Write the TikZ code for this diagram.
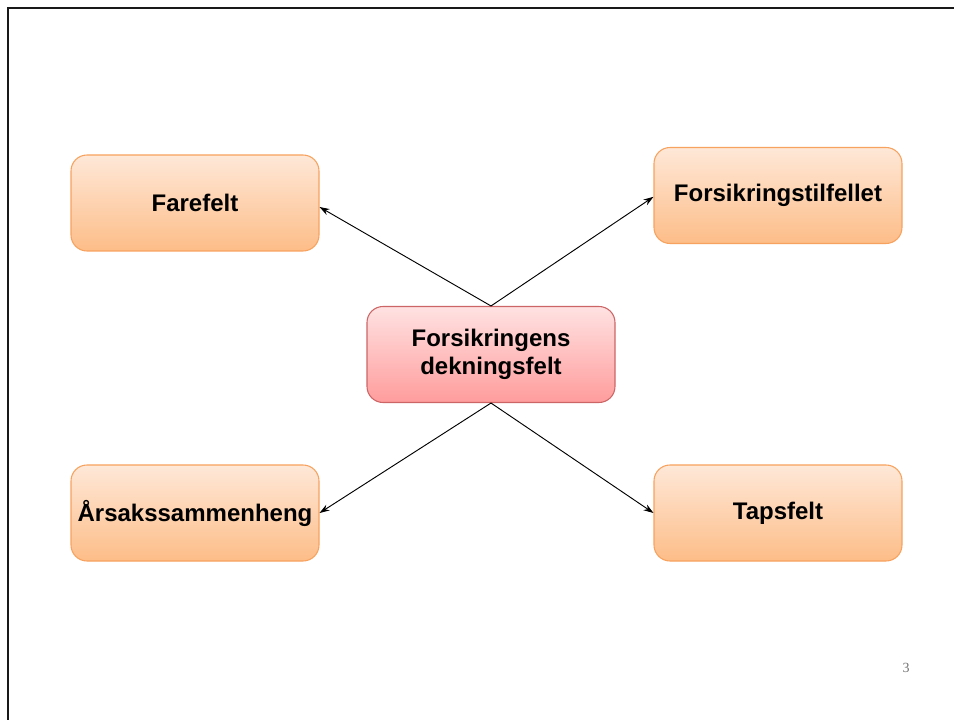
\documentclass[tikz,border=0pt]{standalone}
\usepackage{fontspec}
\setmainfont{Liberation Sans}
\newfontfamily\numfont{Liberation Serif}
\usetikzlibrary{arrows.meta}
\definecolor{orTop}{HTML}{FEE8D8}
\definecolor{orBot}{HTML}{FDBD88}
\definecolor{orLine}{HTML}{F7A25E}
\definecolor{rdTop}{HTML}{FFE2E2}
\definecolor{rdBot}{HTML}{FF9C9C}
\definecolor{rdLine}{HTML}{CC6666}
\begin{document}
\begin{tikzpicture}[x=0.75pt,y=-0.75pt,
  box/.style={rounded corners=12pt, minimum width=186pt, minimum height=72pt,
    inner sep=2pt, align=center, font=\fontsize{18}{21}\selectfont\bfseries, line width=0.8pt},
  orbox/.style={box, draw=orLine, top color=orTop, bottom color=orBot},
  rdbox/.style={box, draw=rdLine, top color=rdTop, bottom color=rdBot},
  link/.style={line width=0.7pt, -{Stealth[length=7.5pt,width=5pt]}}]
  \useasboundingbox (0,0) rectangle (954,720);
  % slide frame along the top and left edges
  \draw[line width=1.6pt, black!90] (8,720) -- (8,8) -- (954,8);

  \node[orbox] (fare)  at (195,203)   {Farefelt};
  \node[orbox] (tilf)  at (778,195.5) {Forsikringstilfellet};
  \node[rdbox] (dekn)  at (491,354.5) {Forsikringens\\dekningsfelt};
  \node[orbox] (aars)  at (195,513)   {Årsakssammenheng};
  \node[orbox] (taps)  at (778,513)   {Tapsfelt};

  \draw[link] (dekn.north) -- ([yshift=-3pt]fare.east);
  \draw[link] (dekn.north) -- ([yshift=-1pt]tilf.west);
  \draw[link] (dekn.south) -- (aars.east);
  \draw[link] (dekn.south) -- (taps.west);

  \node[font=\numfont\fontsize{10.5}{12}\selectfont, text=black!55] (pgno) at (906,668) {3};
\end{tikzpicture}
\end{document}
